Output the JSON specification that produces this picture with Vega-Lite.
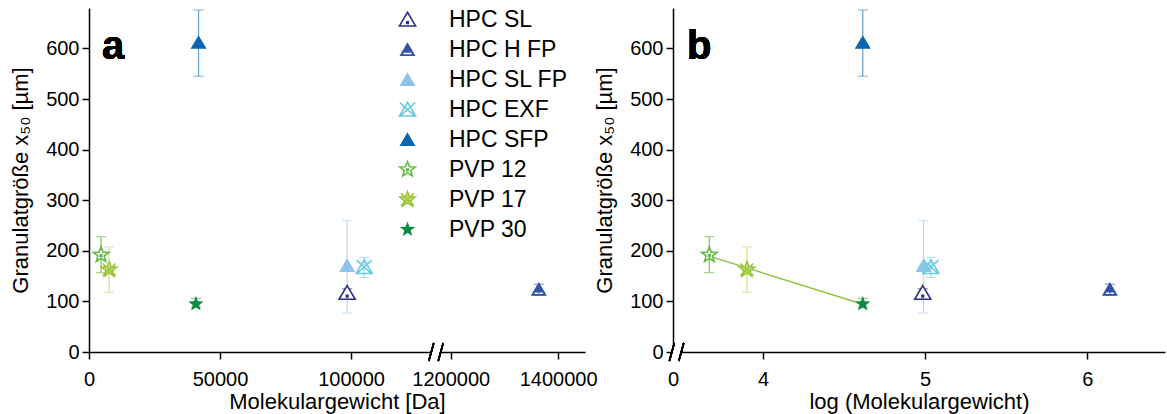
{
  "$schema": "https://vega.github.io/schema/vega-lite/v6.json",
  "padding": {"left": 9, "top": 8, "right": 2, "bottom": 2},
  "config": {
    "view": {"stroke": null},
    "font": "Liberation Sans",
    "axis": {"domainColor": "black", "domainWidth": 1.5, "tickColor": "black", "tickWidth": 1.5, "tickSize": 7, "labelFont": "Liberation Sans", "labelFontSize": 20, "labelColor": "black", "titleFont": "Liberation Sans", "titleFontSize": 22, "titleFontWeight": "normal", "titleColor": "black", "grid": false, "labelPadding": 3, "labelFlush": false, "labelOverlap": false},
    "axisX": {"labelPadding": 10}
  },
  "datasets": {
    "pts": [
      {"series": "HPC SL", "mw": 98500, "logmw": 4.985, "y": 117, "lo": 108, "hi": 125},
      {"series": "HPC H FP", "mw": 1364000, "logmw": 6.14, "y": 124, "lo": 112, "hi": 134},
      {"series": "HPC SL FP", "mw": 98500, "logmw": 4.99, "y": 171, "lo": 77, "hi": 260},
      {"series": "HPC EXF", "mw": 105000, "logmw": 5.035, "y": 168, "lo": 147, "hi": 187},
      {"series": "HPC SFP", "mw": 41800, "logmw": 4.615, "y": 612, "lo": 545, "hi": 676},
      {"series": "PVP 12", "mw": 4600, "logmw": 3.668, "y": 192, "lo": 157, "hi": 228},
      {"series": "PVP 17", "mw": 7700, "logmw": 3.9, "y": 163, "lo": 118, "hi": 208},
      {"series": "PVP 30", "mw": 40800, "logmw": 4.615, "y": 95, "lo": 88, "hi": 106}
    ]
  },
  "resolve": {"scale": {"x": "independent", "y": "independent", "color": "independent", "shape": "independent", "fill": "independent", "stroke": "independent", "strokeWidth": "independent"}, "legend": {"color": "independent", "shape": "independent", "fill": "independent", "stroke": "independent", "strokeWidth": "independent"}},
  "bounds": "flush",
  "spacing": 88,
  "hconcat": [
    {
      "width": 496,
      "height": 344,
      "data": {"name": "pts"},
      "encoding": {
        "x": {"field": "mw", "type": "quantitative", "scale": {"type": "linear", "domain": [0, 132400, 1172600, 1450000], "range": [0, 347, 347, 496], "nice": false, "zero": false}, "axis": {"title": "Molekulargewicht [Da]", "values": [0, 50000, 100000, 1200000, 1400000], "format": "d", "titlePadding": 2}}
      },
      "layer": [
        {
          "mark": {"type": "rule", "strokeWidth": 1.3},
          "encoding": {
            "y": {"field": "lo", "type": "quantitative", "scale": {"domain": [0, 680], "nice": false}, "axis": {"title": "Granulatgröße x₅₀ [µm]", "values": [0, 100, 200, 300, 400, 500, 600], "titlePadding": 13}},
            "y2": {"field": "hi"},
            "color": {"field": "series", "type": "nominal", "legend": null, "scale": {"domain": ["PVP 30", "PVP 17", "PVP 12", "HPC SFP", "HPC EXF", "HPC SL FP", "HPC H FP", "HPC SL"], "range": ["#5db77c", "#cfe58f", "#86c96a", "#6aa8dc", "#9fdcec", "#bcdaf2", "#5f7bc4", "#5a5fa8"]}}
          }
        },
        {
          "mark": {"type": "tick", "orient": "horizontal", "thickness": 1.3, "size": 10},
          "encoding": {
            "y": {"field": "lo", "type": "quantitative"},
            "color": {"field": "series", "type": "nominal", "legend": null}
          }
        },
        {
          "mark": {"type": "tick", "orient": "horizontal", "thickness": 1.3, "size": 10},
          "encoding": {
            "y": {"field": "hi", "type": "quantitative"},
            "color": {"field": "series", "type": "nominal", "legend": null}
          }
        },
        {
          "mark": {"type": "point", "filled": true, "shape": "M-0.8,1L-0.25,-1L0.8,-1L0.25,1Z", "size": 324, "fill": "white", "opacity": 1, "strokeWidth": 0},
          "encoding": {"x": {"datum": 500000}, "y": {"datum": 0}}
        },
        {
          "mark": {"type": "point", "filled": false, "shape": "M-0.8,1L-0.25,-1M0.25,1L0.8,-1", "size": 324, "stroke": "black", "opacity": 1, "strokeWidth": 1.5},
          "encoding": {"x": {"datum": 500000}, "y": {"datum": 0}}
        },
        {
          "mark": {"type": "text", "text": "a", "fontSize": 40, "fontWeight": "bold", "font": "Liberation Sans", "color": "black", "align": "left", "baseline": "alphabetic"},
          "encoding": {"x": {"datum": 5000}, "y": {"datum": 580}}
        },
        {
          "mark": {"type": "point", "opacity": 1, "size": 260},
          "encoding": {
            "y": {"field": "y", "type": "quantitative"},
            "shape": {"field": "series", "type": "nominal", "legend": {"title": null, "orient": "none", "legendX": 307, "legendY": 0, "labelFont": "Liberation Sans", "labelFontSize": 23, "labelColor": "black", "rowPadding": 6, "labelOffset": 30, "symbolSize": 260}, "scale": {"domain": ["HPC SL", "HPC H FP", "HPC SL FP", "HPC EXF", "HPC SFP", "PVP 12", "PVP 17", "PVP 30"], "range": [
              "M0,-0.9L1,0.8L-1,0.8Z M-0.1,0.3L0.1,0.3L0.1,0.5L-0.1,0.5Z",
              "M0,-0.9L1,0.8L-1,0.8Z M-0.5,0.4L-0.5,0.6L0.5,0.6L0.5,0.4Z",
              "M0,-0.9L1,0.8L-1,0.8Z",
              "M0,-0.9L1,0.8L-1,0.8Z M-0.95,-0.85L0.95,0.85M0.95,-0.85L-0.95,0.85",
              "M0,-0.9L1,0.8L-1,0.8Z",
              "M0,-1L0.247,-0.34L0.951,-0.309L0.399,0.13L0.588,0.809L0,0.42L-0.588,0.809L-0.399,0.13L-0.951,-0.309L-0.247,-0.34Z M-0.1,-0.05L0.1,-0.05L0.1,0.15L-0.1,0.15Z",
              "M0,-1L0.247,-0.34L0.951,-0.309L0.399,0.13L0.588,0.809L0,0.42L-0.588,0.809L-0.399,0.13L-0.951,-0.309L-0.247,-0.34Z M-0.8,-0.75L0.8,0.75M0.8,-0.75L-0.8,0.75",
              "M0,-1L0.247,-0.34L0.951,-0.309L0.399,0.13L0.588,0.809L0,0.42L-0.588,0.809L-0.399,0.13L-0.951,-0.309L-0.247,-0.34Z"
            ]}},
            "fill": {"field": "series", "type": "nominal", "legend": {"title": null, "orient": "none", "legendX": 307, "legendY": 0, "labelFont": "Liberation Sans", "labelFontSize": 23, "labelColor": "black", "rowPadding": 6, "labelOffset": 30, "symbolSize": 260}, "scale": {"domain": ["HPC SL", "HPC H FP", "HPC SL FP", "HPC EXF", "HPC SFP", "PVP 12", "PVP 17", "PVP 30"], "range": ["white", "#3352a8", "#8fc3ea", "transparent", "#0b66b2", "white", "#c5de78", "#0f8a45"]}},
            "stroke": {"field": "series", "type": "nominal", "legend": {"title": null, "orient": "none", "legendX": 307, "legendY": 0, "labelFont": "Liberation Sans", "labelFontSize": 23, "labelColor": "black", "rowPadding": 6, "labelOffset": 30, "symbolSize": 260}, "scale": {"domain": ["HPC SL", "HPC H FP", "HPC SL FP", "HPC EXF", "HPC SFP", "PVP 12", "PVP 17", "PVP 30"], "range": ["#2b3087", "#3352a8", "#8fc3ea", "#6ccbe2", "#0b66b2", "#62bb46", "#9bc53d", "#0f8a45"]}},
            "strokeWidth": {"field": "series", "type": "ordinal", "legend": {"title": null, "orient": "none", "legendX": 307, "legendY": 0, "labelFont": "Liberation Sans", "labelFontSize": 23, "labelColor": "black", "rowPadding": 6, "labelOffset": 30, "symbolSize": 260}, "scale": {"type": "ordinal", "domain": ["HPC SL", "HPC H FP", "HPC SL FP", "HPC EXF", "HPC SFP", "PVP 12", "PVP 17", "PVP 30"], "range": [1.6, 0, 0, 1.6, 0, 1.6, 1.6, 0]}}
          }
        }
      ]
    },
    {
      "width": 492,
      "height": 344,
      "data": {"name": "pts"},
      "encoding": {
        "x": {"field": "logmw", "type": "quantitative", "scale": {"domain": [3.444, 6.48], "nice": false, "zero": false}, "axis": {"title": "log (Molekulargewicht)", "values": [3.444, 4, 5, 6], "labelExpr": "datum.value < 3.9 ? '0' : format(datum.value, 'd')", "titlePadding": 2}}
      },
      "layer": [
        {
          "mark": {"type": "rule", "strokeWidth": 1.3},
          "encoding": {
            "y": {"field": "lo", "type": "quantitative", "scale": {"domain": [0, 680], "nice": false}, "axis": {"title": "Granulatgröße x₅₀ [µm]", "values": [0, 100, 200, 300, 400, 500, 600], "titlePadding": 13}},
            "y2": {"field": "hi"},
            "color": {"field": "series", "type": "nominal", "legend": null, "scale": {"domain": ["HPC SL", "HPC H FP", "HPC SL FP", "HPC EXF", "HPC SFP", "PVP 12", "PVP 17", "PVP 30"], "range": ["#5a5fa8", "#5f7bc4", "#bcdaf2", "#9fdcec", "#6aa8dc", "#86c96a", "#cfe58f", "#5db77c"]}}
          }
        },
        {
          "mark": {"type": "tick", "orient": "horizontal", "thickness": 1.3, "size": 10},
          "encoding": {
            "y": {"field": "lo", "type": "quantitative"},
            "color": {"field": "series", "type": "nominal", "legend": null}
          }
        },
        {
          "mark": {"type": "tick", "orient": "horizontal", "thickness": 1.3, "size": 10},
          "encoding": {
            "y": {"field": "hi", "type": "quantitative"},
            "color": {"field": "series", "type": "nominal", "legend": null}
          }
        },
        {
          "transform": [{"filter": "indexof(datum.series, 'PVP') == 0"}, {"regression": "y", "on": "logmw"}],
          "mark": {"type": "line", "color": "#8cc63f", "strokeWidth": 1.5},
          "encoding": {"y": {"field": "y", "type": "quantitative"}}
        },
        {
          "mark": {"type": "point", "filled": true, "shape": "M-0.8,1L-0.25,-1L0.8,-1L0.25,1Z", "size": 324, "fill": "white", "opacity": 1, "strokeWidth": 0},
          "encoding": {"x": {"datum": 3.466}, "y": {"datum": 0}}
        },
        {
          "mark": {"type": "point", "filled": false, "shape": "M-0.8,1L-0.25,-1M0.25,1L0.8,-1", "size": 324, "stroke": "black", "opacity": 1, "strokeWidth": 1.5},
          "encoding": {"x": {"datum": 3.466}, "y": {"datum": 0}}
        },
        {
          "mark": {"type": "text", "text": "b", "fontSize": 40, "fontWeight": "bold", "font": "Liberation Sans", "color": "black", "align": "left", "baseline": "alphabetic"},
          "encoding": {"x": {"datum": 3.53}, "y": {"datum": 580}}
        },
        {
          "mark": {"type": "point", "opacity": 1, "size": 260},
          "encoding": {
            "y": {"field": "y", "type": "quantitative"},
            "shape": {"field": "series", "type": "nominal", "legend": null, "scale": {"domain": ["HPC SL", "HPC H FP", "HPC SL FP", "HPC EXF", "HPC SFP", "PVP 12", "PVP 17", "PVP 30"], "range": [
              "M0,-0.9L1,0.8L-1,0.8Z M-0.1,0.3L0.1,0.3L0.1,0.5L-0.1,0.5Z",
              "M0,-0.9L1,0.8L-1,0.8Z M-0.5,0.4L-0.5,0.6L0.5,0.6L0.5,0.4Z",
              "M0,-0.9L1,0.8L-1,0.8Z",
              "M0,-0.9L1,0.8L-1,0.8Z M-0.95,-0.85L0.95,0.85M0.95,-0.85L-0.95,0.85",
              "M0,-0.9L1,0.8L-1,0.8Z",
              "M0,-1L0.247,-0.34L0.951,-0.309L0.399,0.13L0.588,0.809L0,0.42L-0.588,0.809L-0.399,0.13L-0.951,-0.309L-0.247,-0.34Z M-0.1,-0.05L0.1,-0.05L0.1,0.15L-0.1,0.15Z",
              "M0,-1L0.247,-0.34L0.951,-0.309L0.399,0.13L0.588,0.809L0,0.42L-0.588,0.809L-0.399,0.13L-0.951,-0.309L-0.247,-0.34Z M-0.8,-0.75L0.8,0.75M0.8,-0.75L-0.8,0.75",
              "M0,-1L0.247,-0.34L0.951,-0.309L0.399,0.13L0.588,0.809L0,0.42L-0.588,0.809L-0.399,0.13L-0.951,-0.309L-0.247,-0.34Z"
            ]}},
            "fill": {"field": "series", "type": "nominal", "legend": null, "scale": {"domain": ["HPC SL", "HPC H FP", "HPC SL FP", "HPC EXF", "HPC SFP", "PVP 12", "PVP 17", "PVP 30"], "range": ["white", "#3352a8", "#8fc3ea", "transparent", "#0b66b2", "white", "#c5de78", "#0f8a45"]}},
            "stroke": {"field": "series", "type": "nominal", "legend": null, "scale": {"domain": ["HPC SL", "HPC H FP", "HPC SL FP", "HPC EXF", "HPC SFP", "PVP 12", "PVP 17", "PVP 30"], "range": ["#2b3087", "#3352a8", "#8fc3ea", "#6ccbe2", "#0b66b2", "#62bb46", "#9bc53d", "#0f8a45"]}},
            "strokeWidth": {"field": "series", "type": "ordinal", "legend": null, "scale": {"type": "ordinal", "domain": ["HPC SL", "HPC H FP", "HPC SL FP", "HPC EXF", "HPC SFP", "PVP 12", "PVP 17", "PVP 30"], "range": [1.6, 0, 0, 1.6, 0, 1.6, 1.6, 0]}}
          }
        }
      ]
    }
  ]
}
